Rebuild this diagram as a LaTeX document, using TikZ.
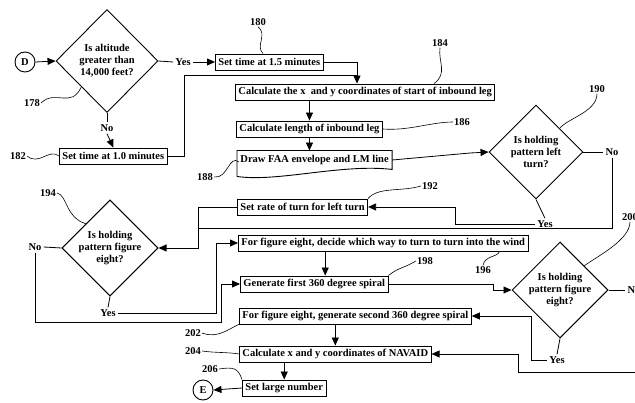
\documentclass[tikz,border=0pt]{standalone}
\usepackage{fontspec}
\setmainfont{Liberation Serif}
\usetikzlibrary{arrows.meta, positioning, shapes.geometric, calc}

\begin{document}
\begin{tikzpicture}[
    x=1pt, y=-1pt,
    font=\fontsize{10.5}{12}\selectfont\bfseries,
    stepbox/.style={draw, line width=0.9pt, minimum height=16pt, inner xsep=3pt, inner ysep=1pt, anchor=west},
    decision/.style={draw, diamond, aspect=1, line width=0.9pt, minimum width=94pt, minimum height=94pt, inner sep=0pt, align=center},
    connector/.style={draw, circle, line width=0.9pt, minimum size=20pt, inner sep=0pt},
    answer/.style={inner sep=2pt},
    ref/.style={inner sep=1pt},
    flow/.style={line width=0.8pt},
    arrow/.style={flow, -{Triangle[length=8pt, width=7pt]}},
    lead/.style={line width=0.6pt},
]
    \useasboundingbox (0,0) rectangle (635,403);

    % Altitude check
    \node[connector] (D) at (25,62) {D};
    \node[decision, minimum width=102pt, minimum height=103pt] (d178) at (107,61) {Is altitude\\greater than\\14,000 feet?};
    \node[answer] (yes178) at (183,62) {Yes};
    \node[answer] (no178) at (107,128) {No};
    \node[stepbox] (b180) at (215,62) {Set time at 1.5 minutes};
    \node[stepbox] (b182) at (59,156) {Set time at 1.0 minutes};

    % Inbound leg
    \node[stepbox] (b184) at (235,92) {Calculate the x\ \ and y coordinates of start of inbound leg};
    \node[stepbox] (b186) at (236,129) {Calculate length of inbound leg};
    \node[stepbox, draw=none, minimum height=18pt] (b188) at (237,160) {Draw FAA envelope and LM line};
    \draw[line width=0.9pt] ($(b188.south west)+(0,7)$) -- (b188.north west) -- (b188.north east) -- (b188.south east)
        .. controls +(-50,-6) and +(40,6) .. ($(b188.south west)+(0,7)$);

    % Left turn check
    \node[decision] (d190) at (536,152) {Is holding\\pattern left\\turn?};
    \node[answer] (no190) at (612,152) {No};
    \node[answer] (yes190) at (545,224) {Yes};
    \node[stepbox] (b192) at (237,207) {Set rate of turn for left turn};

    % Figure eight checks
    \node[decision] (d194) at (110,248) {Is holding\\pattern figure\\eight?};
    \node[answer] (no194) at (35,247) {No};
    \node[answer] (yes194) at (108,313) {Yes};
    \node[stepbox] (b196) at (238,243) {For figure eight, decide which way to turn to turn into the wind};
    \node[stepbox] (b198) at (240,284) {Generate first 360 degree spiral};
    \node[decision] (d200) at (560,290) {Is holding\\pattern figure\\eight?};
    \node[answer] (no200) at (634,290) {No};
    \node[answer] (yes200) at (557,360) {Yes};
    \node[stepbox] (b202) at (239,316) {For figure eight, generate second 360 degree spiral};
    \node[stepbox] (b204) at (239,354) {Calculate x and y coordinates of NAVAID};
    \node[stepbox] (b206) at (242,388) {Set large number};
    \node[connector] (E) at (203,390) {E};

    % Bend points
    \coordinate (j184) at (357,75);
    \coordinate (j194) at (198,228);
    \coordinate (k196) at (216,313);
    \coordinate (k198) at (221,322);
    \coordinate (k200) at (493,284);
    \coordinate (k204) at (518,372);
    \coordinate (t198) at ($(b198.north)+(11,0)$);

    % Connectors
    \draw[arrow] (D.east) -- (d178.west);
    \draw[flow] (d178.east) -- (yes178.west);
    \draw[arrow] (yes178.east) -- (b180.west);
    \draw[flow] (d178.south) -- (no178.north);
    \draw[arrow] (no178.south) -- (b182.north);
    \draw[flow] (b180.east) -| (j184);
    \draw[flow] (b182.east) -- ++(17,0) |- (j184);
    \draw[arrow] (j184) -- (j184 |- b184.north);
    \draw[arrow] (b184.south -| b186.north) -- (b186.north);
    \draw[arrow] (b186.south) -- (b186.south |- b188.north);
    \draw[arrow] (b188.east) -- ++(78,-7) -- (d190.west);

    \draw[flow] (d190.east) -- (no190.west);
    \draw[flow] (d190.south) -- (yes190.north);
    \draw[arrow] (yes190.west) -- ++(-80,0) |- (b192.east);
    \draw[flow] (no190.south) |- (j194);
    \draw[flow] (b192.west) -| (j194);
    \draw[arrow] (j194) |- (d194.east);

    \draw[flow] (d194.west) -- (no194.east);
    \draw[flow] (d194.south) -- (yes194.north);
    \draw[arrow] (yes194.east) -- (k196) |- (b196.west);
    \draw[arrow] (no194.south) |- (k198) |- (b198.west);
    \draw[arrow] (b196.south -| t198) -- (t198);
    \draw[arrow] (b198.east) -- (b198.east -| k200) |- (d200.west);

    \draw[flow] (d200.east) -- (no200.west);
    \draw[arrow] (no200.east) -- ++(12,0) |- (k204) |- (b204.east);
    \draw[flow] (d200.south) -- (yes200.north);
    \draw[arrow] (yes200.west) -- ++(-16,0) |- (b202.east);
    \draw[arrow] (b202.south -| b204.north) -- (b204.north);
    \draw[arrow] (b204.south -| b206.north) -- (b206.north);
    \draw[arrow] (b206.west) -- (E.east);

    % Reference numerals
    \node[ref] (l178) at (32,103) {178};
    \node[ref] (l180) at (258,22) {180};
    \node[ref] (l182) at (18,156) {182};
    \node[ref] (l184) at (440,43) {184};
    \node[ref] (l186) at (462,122) {186};
    \node[ref] (l188) at (205,177) {188};
    \node[ref] (l190) at (597,89) {190};
    \node[ref] (l192) at (430,186) {192};
    \node[ref] (l194) at (48,193) {194};
    \node[ref] (l196) at (483,270) {196};
    \node[ref] (l198) at (425,261) {198};
    \node[ref] (l200) at (630,217) {200};
    \node[ref] (l202) at (193,333) {202};
    \node[ref] (l204) at (193,351) {204};
    \node[ref] (l206) at (210,369) {206};

    \draw[lead] (l178.east) .. controls +(14,-14) and +(-10,22) .. ($(d178.west)!0.5!(d178.south)$);
    \draw[lead] (l180.south) .. controls +(10,8) and +(-8,-8) .. ($(l180.south |- b180.north)+(5,0)$);
    \draw[lead] (l182.east) .. controls +(12,10) and +(-10,-8) .. (b182.west);
    \draw[lead] (l184.south) .. controls +(-2,14) and +(14,-10) .. ($(l184.south |- b184.north)+(-6,0)$);
    \draw[lead] (l186.west) .. controls +(-22,0) and +(26,2) .. (b186.east);
    \draw[lead] (l188.east) .. controls +(14,2) and +(-10,-8) .. ($(b188.west)+(2,2)$);
    \draw[lead] (l190.south) .. controls +(0,18) and +(8,-10) .. ($(d190.north)!0.5!(d190.east)$);
    \draw[lead] (l192.west) .. controls +(-20,6) and +(10,-12) .. (b192.north east);
    \draw[lead] (l194.east) .. controls +(10,2) and +(-20,-6) .. ($(d194.north)!0.5!(d194.west)$);
    \draw[lead] (l196.north) .. controls +(2,-10) and +(-2,6) .. ($(b196.south east)+(-29,0)$);
    \draw[lead] (l198.west) .. controls +(-14,8) and +(10,-8) .. (b198.north east);
    \draw[lead] (l200.south) .. controls +(0,18) and +(14,-10) .. ($(d200.north)!0.5!(d200.east)$);
    \draw[lead] (l202.east) .. controls +(16,6) and +(-10,4) .. (b202.south west);
    \draw[lead] (l204.east) .. controls +(14,2) and +(-12,-2) .. (b204.west);
    \draw[lead] (l206.east) .. controls +(14,-2) and +(-4,-12) .. (b206.north west);
\end{tikzpicture}
\end{document}
